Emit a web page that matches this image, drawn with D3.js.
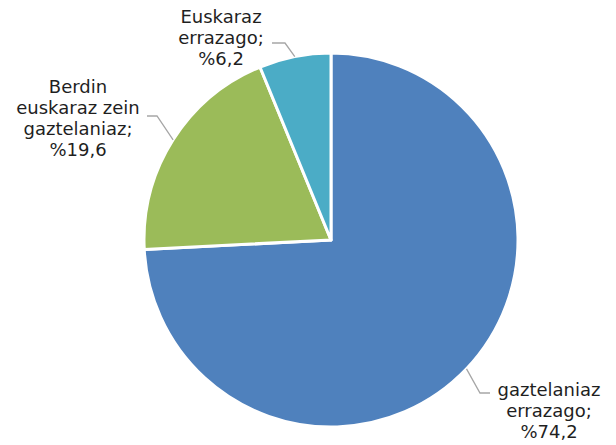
<!DOCTYPE html>
<html>
<head>
<meta charset="utf-8">
<script src="https://cdn.jsdelivr.net/npm/d3@7"></script>
<style>
  html, body { margin: 0; padding: 0; background: #fff; }
  svg { display: block; }
  .lbl { font-family: "DejaVu Sans", Verdana, sans-serif; font-size: 18px; fill: #1f1f1f; }
  .leader { fill: none; stroke: #a6a6a6; stroke-width: 1.3px; }
</style>
</head>
<body>
<svg id="chart"></svg>
<script>
// slice data, clockwise from 12 o'clock
const categories = ["gaztelaniaz errazago", "Berdin euskaraz zein gaztelaniaz", "Euskaraz errazago"];
const values = [74.2, 19.6, 6.2];
const labelLines = [
  ["gaztelaniaz", "errazago;", "%74,2"],
  ["Berdin", "euskaraz zein", "gaztelaniaz;", "%19,6"],
  ["Euskaraz", "errazago;", "%6,2"]
];
const colors = ["#4f81bd", "#9bbb59", "#4bacc6"];

// label placement relative to pie centre: elbow, end of leader, text centre x / first baseline
const labelLayout = [
  { elbow: [149, 153], end: [159, 153], text: [218, 156] },
  { elbow: [-174, -124], end: [-184, -124], text: [-253, -147] },
  { elbow: [-46, -197], end: [-59, -197], text: [-110, -217] }
];

const width = 616, height = 445;
const cx = 331, cy = 240, radius = 187;
const lineHeight = 21;

const svg = d3.select("#chart").attr("width", width).attr("height", height);
const g = svg.append("g").attr("transform", `translate(${cx},${cy})`);

const pie = d3.pie().sort(null).value(d => d.value);
const arcs = pie(categories.map((c, i) => ({ name: c, value: values[i], i })));

const arc = d3.arc().innerRadius(0).outerRadius(radius);
const edge = d3.arc().innerRadius(radius).outerRadius(radius);

g.selectAll("path.slice")
  .data(arcs)
  .enter()
  .append("path")
  .attr("class", "slice")
  .attr("d", arc)
  .attr("fill", d => colors[d.data.i])
  .attr("stroke", "#fff")
  .attr("stroke-width", 3)
  .attr("stroke-linejoin", "round");

g.selectAll("polyline.leader")
  .data(arcs)
  .enter()
  .append("polyline")
  .attr("class", "leader")
  .attr("points", d => {
    const p = edge.centroid(d);
    const L = labelLayout[d.data.i];
    return [p, L.elbow, L.end].map(q => q.join(",")).join(" ");
  });

const labels = g.selectAll("text.lbl")
  .data(arcs)
  .enter()
  .append("text")
  .attr("class", "lbl")
  .attr("text-anchor", "middle");

labels.selectAll("tspan")
  .data(d => labelLines[d.data.i].map((t, k) => ({ t, k, L: labelLayout[d.data.i] })))
  .enter()
  .append("tspan")
  .attr("x", d => d.L.text[0])
  .attr("y", d => d.L.text[1] + d.k * lineHeight)
  .text(d => d.t);
</script>
</body>
</html>
